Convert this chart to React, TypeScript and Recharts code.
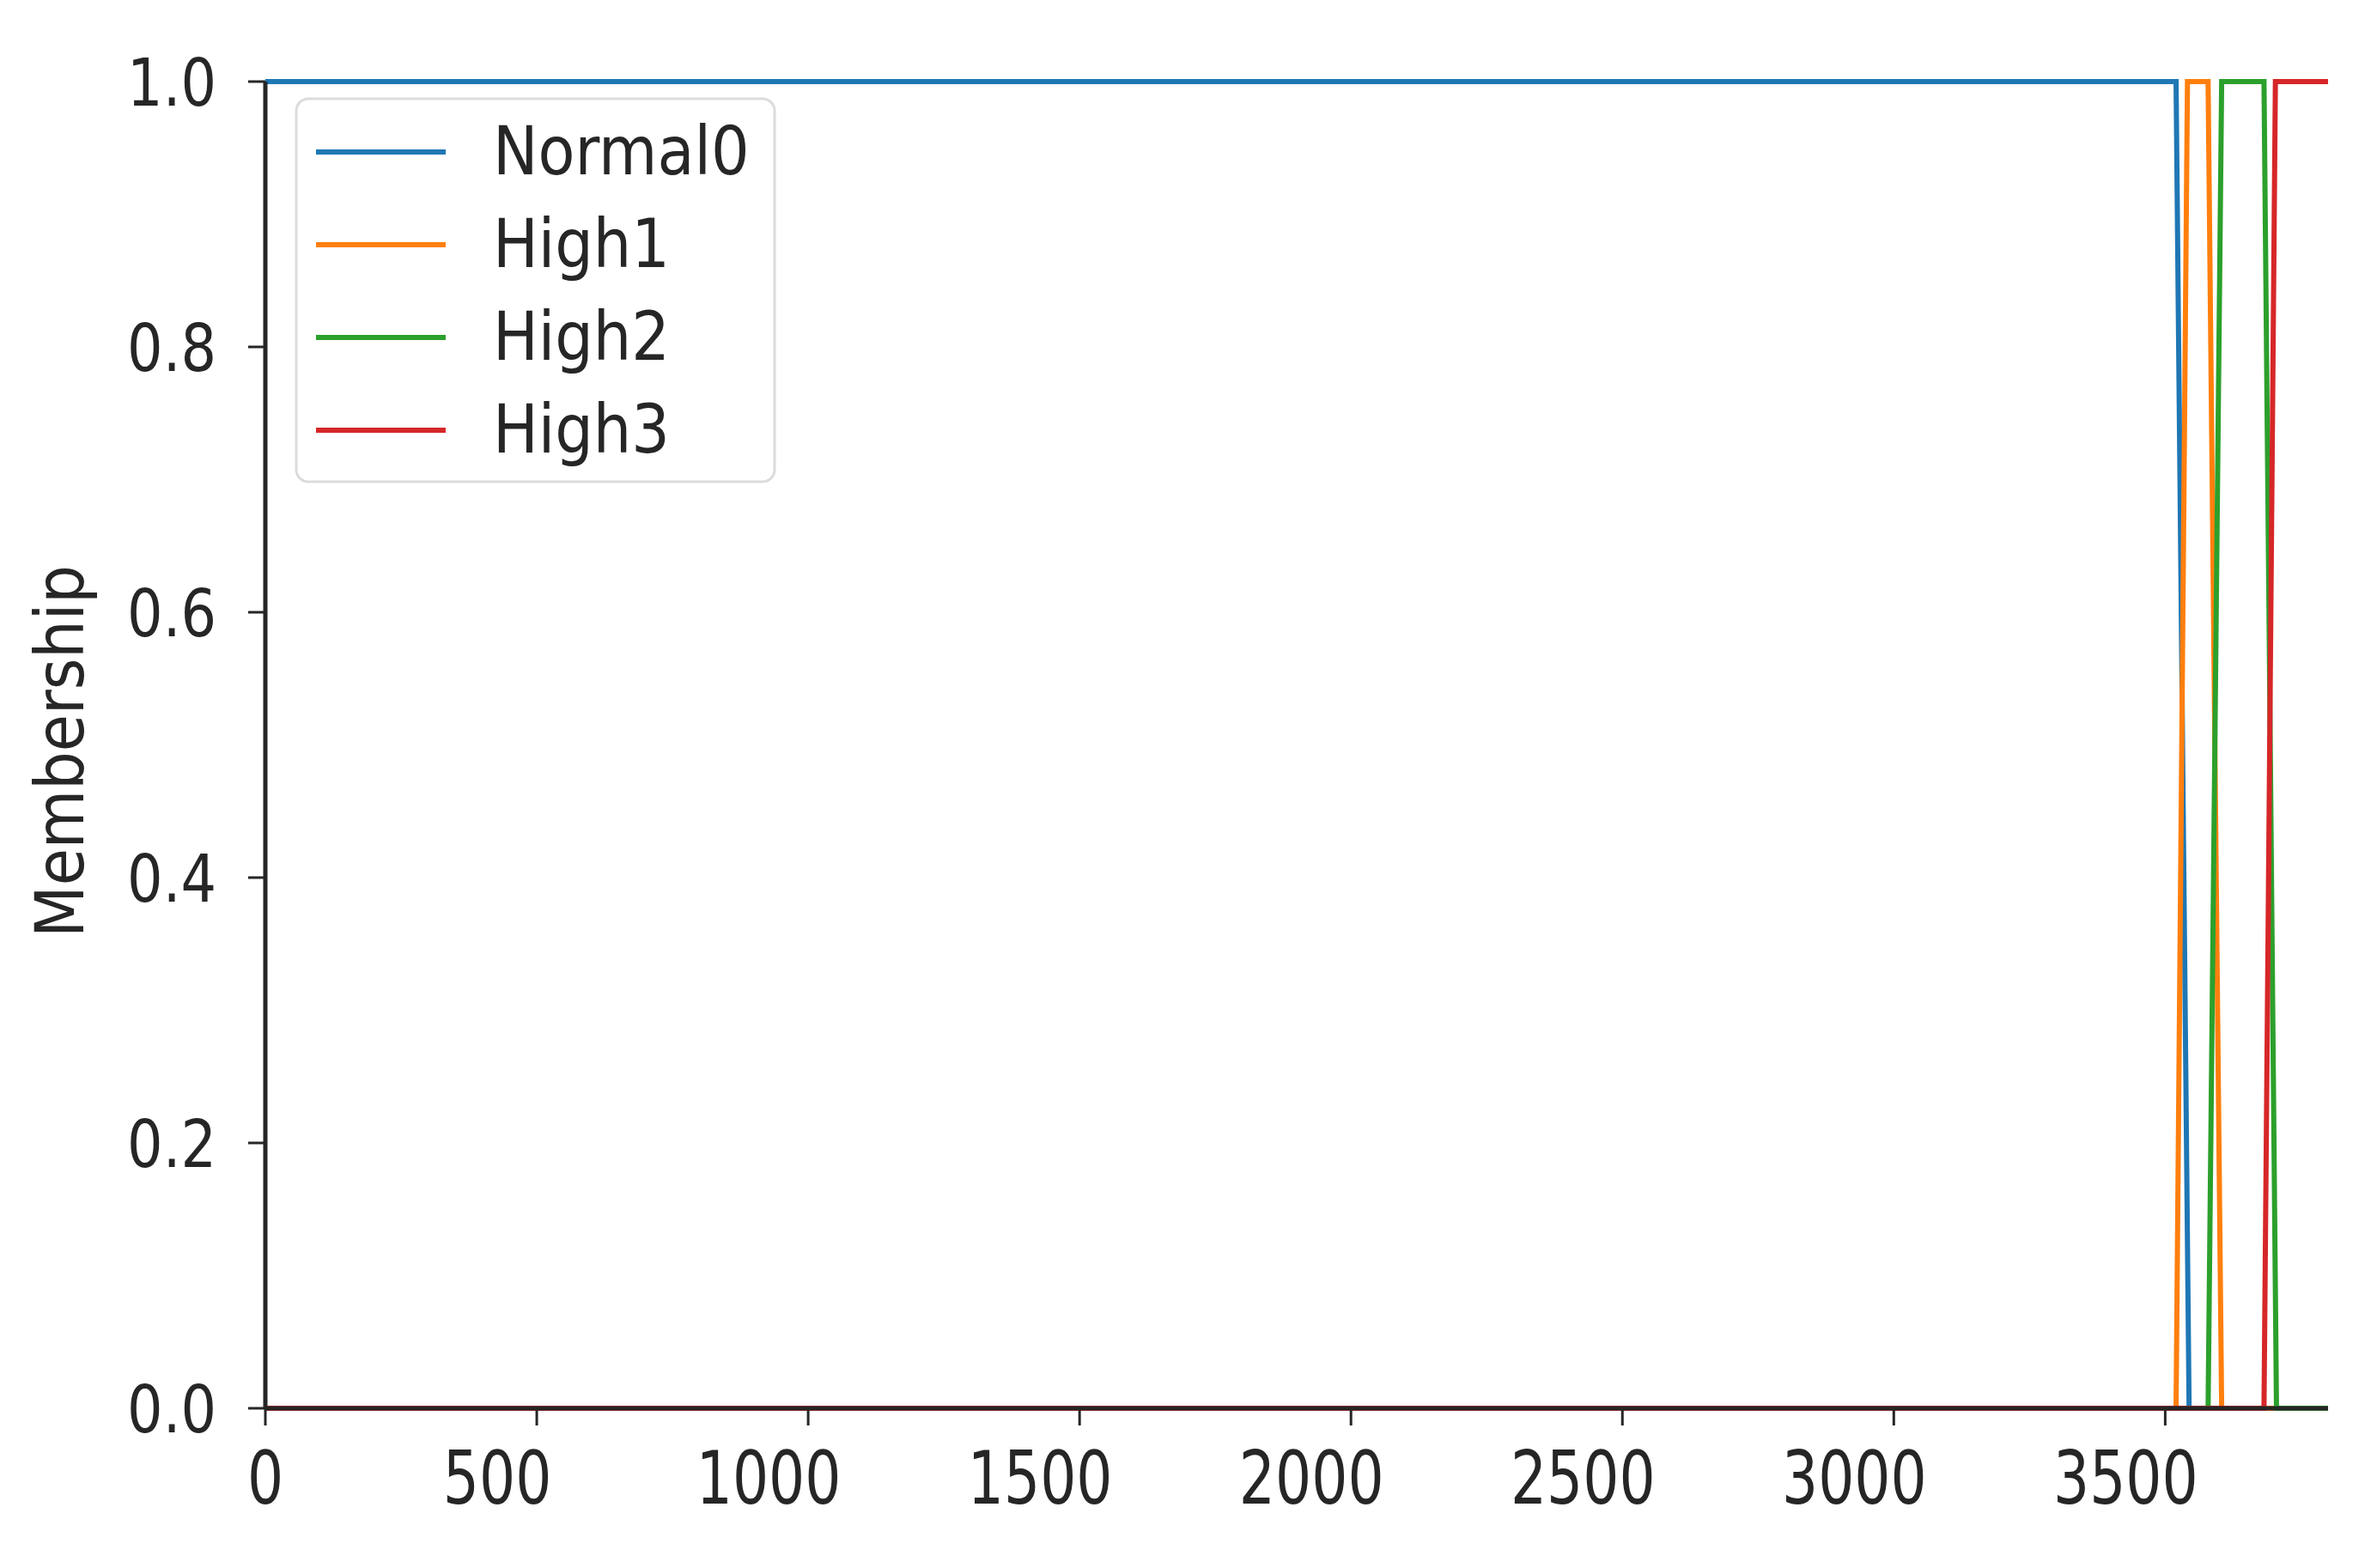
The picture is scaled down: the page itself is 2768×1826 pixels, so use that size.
import React from 'react';
import { LineChart, Line, XAxis, YAxis, Legend } from 'recharts';

// membership breakpoints
const normal0 = [
  { x: 0, y: 1 },
  { x: 3520, y: 1 },
  { x: 3544, y: 0 },
  { x: 3800, y: 0 },
];
const high1 = [
  { x: 0, y: 0 },
  { x: 3520, y: 0 },
  { x: 3541, y: 1 },
  { x: 3579, y: 1 },
  { x: 3604, y: 0 },
  { x: 3800, y: 0 },
];
const high2 = [
  { x: 0, y: 0 },
  { x: 3579, y: 0 },
  { x: 3604, y: 1 },
  { x: 3682, y: 1 },
  { x: 3705, y: 0 },
  { x: 3800, y: 0 },
];
const high3 = [
  { x: 0, y: 0 },
  { x: 3682, y: 0 },
  { x: 3703, y: 1 },
  { x: 3800, y: 1 },
];

const xTicks = [0, 500, 1000, 1500, 2000, 2500, 3000, 3500];
const yTicks = [0, 0.2, 0.4, 0.6, 0.8, 1.0];

const series = [
  { name: 'Normal0', data: normal0, color: '#1f77b4' },
  { name: 'High1', data: high1, color: '#ff7f0e' },
  { name: 'High2', data: high2, color: '#2ca02c' },
  { name: 'High3', data: high3, color: '#d62728' },
];

const FONT = '"DejaVu Sans", sans-serif';
const INK = '#262626';

const XTick = ({ x, y, payload }: any) => (
  <g transform={`translate(${x + (payload.value === 0 ? 0 : -46)},${y + 91}) scale(0.78,1)`}>
    <text textAnchor="middle" fontSize={85} fill={INK} fontFamily={FONT}>
      {payload.value}
    </text>
  </g>
);

const YTick = ({ x, y, payload }: any) => (
  <g transform={`translate(${x - 37},${y + 28}) scale(0.86,1)`}>
    <text textAnchor="end" fontSize={76} fill={INK} fontFamily={FONT}>
      {Number(payload.value).toFixed(1)}
    </text>
  </g>
);

const YLabel = () => (
  <g transform="translate(97,875) rotate(-90) scale(0.9,1)">
    <text textAnchor="middle" fontSize={78} fill={INK} fontFamily={FONT}>
      Membership
    </text>
  </g>
);

const LegendBox = () => (
  <svg width={561} height={450} style={{ display: 'block' }}>
    <rect x={2} y={2} width={557} height={446} rx={14} fill="#fff" stroke="#dcdcdc" strokeWidth={3} />
    {series.map((s, i) => (
      <g key={s.name}>
        <line x1={25} x2={176} y1={64 + i * 108} y2={64 + i * 108} stroke={s.color} strokeWidth={6} />
        <g transform={`translate(231,${90 + i * 108}) scale(0.9,1)`}>
          <text fontSize={78} fill={INK} fontFamily={FONT}>
            {s.name}
          </text>
        </g>
      </g>
    ))}
  </svg>
);

export default function App() {
  return (
    <div style={{ position: 'absolute', left: 0, top: 0, background: '#fff' }}>
      <LineChart width={2768} height={1826} margin={{ top: 95, right: 57, left: 0, bottom: 0 }}>
        <XAxis
          type="number"
          dataKey="x"
          domain={[0, 3800]}
          ticks={xTicks}
          allowDataOverflow
          height={186}
          tickSize={20}
          tickMargin={0}
          tick={<XTick />}
          stroke={INK}
          strokeWidth={5}
          tickLine={{ stroke: INK, strokeWidth: 3 }}
        />
        <YAxis
          type="number"
          dataKey="y"
          domain={[0, 1]}
          ticks={yTicks}
          width={309}
          tickSize={20}
          tickMargin={0}
          tick={<YTick />}
          stroke={INK}
          strokeWidth={5}
          tickLine={{ stroke: INK, strokeWidth: 3 }}
          label={<YLabel />}
        />
        <Legend
          layout="horizontal"
          verticalAlign="middle"
          content={<LegendBox />}
          wrapperStyle={{ left: 343, top: 113, width: 561, height: 450 }}
        />
        {series.map((s) => (
          <Line
            key={s.name}
            name={s.name}
            data={s.data}
            dataKey="y"
            type="linear"
            stroke={s.color}
            strokeWidth={6}
            dot={false}
            activeDot={false}
            isAnimationActive={false}
          />
        ))}
      </LineChart>
    </div>
  );
}
